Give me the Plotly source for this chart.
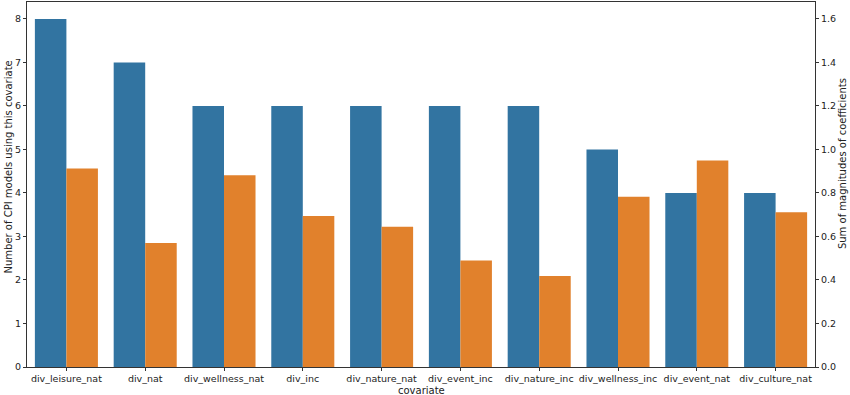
import plotly.graph_objects as go

categories = ["div_leisure_nat", "div_nat", "div_wellness_nat", "div_inc", "div_nature_nat",
              "div_event_inc", "div_nature_inc", "div_wellness_inc", "div_event_nat", "div_culture_nat"]
model_counts = [8, 7, 6, 6, 6, 6, 6, 5, 4, 4]
coef_magnitudes = [0.912, 0.570, 0.881, 0.694, 0.645, 0.490, 0.418, 0.783, 0.949, 0.711]
left_ticks = [0, 1, 2, 3, 4, 5, 6, 7, 8]
right_ticks = [0.0, 0.2, 0.4, 0.6, 0.8, 1.0, 1.2, 1.4, 1.6]

xs = list(range(len(categories)))
tick_font = dict(family="DejaVu Sans", size=9.5, color="#222")
title_font = dict(family="DejaVu Sans", size=10, color="#222")

fig = go.Figure()
fig.add_trace(go.Bar(x=xs, y=model_counts, width=0.4, offset=-0.4,
                     marker=dict(color="#3274a1", line=dict(width=0)), yaxis="y", name="count"))
fig.add_trace(go.Bar(x=xs, y=coef_magnitudes, width=0.4, offset=0.0,
                     marker=dict(color="#e1812c", line=dict(width=0)), yaxis="y2", name="magnitude"))

axis_common = dict(showgrid=False, zeroline=False, showline=True, linecolor="#333", linewidth=1,
                   ticks="outside", ticklen=3, tickcolor="#333", tickfont=tick_font, automargin=False)

fig.update_layout(
    width=850, height=395,
    margin=dict(l=27, r=35, t=2, b=28),
    plot_bgcolor="white", paper_bgcolor="white",
    showlegend=False,
    font=tick_font,
    xaxis=dict(tickmode="array", tickvals=xs, ticktext=categories, range=[-0.5, 9.5], tickangle=0,
               mirror=True, **axis_common),
    yaxis=dict(range=[0, 8.39], tickvals=left_ticks, ticktext=[str(t) for t in left_ticks],
               **axis_common),
    yaxis2=dict(range=[0, 1.678], overlaying="y", side="right", tickvals=right_ticks,
                ticktext=[f"{t:.1f}" for t in right_ticks], **axis_common),
    annotations=[
        dict(text="covariate", xref="paper", yref="paper", x=0.5, y=-0.0644,
             showarrow=False, font=title_font, xanchor="center", yanchor="middle"),
        dict(text="Number of CPI models using this covariate", xref="paper", yref="paper",
             x=-0.0241, y=0.5466, textangle=-90, showarrow=False, font=title_font,
             xanchor="center", yanchor="middle"),
        dict(text="Sum of magnitudes of coefficients", xref="paper", yref="paper",
             x=1.0350, y=0.5575, textangle=-90, showarrow=False, font=title_font,
             xanchor="center", yanchor="middle"),
    ],
)

fig.write_html("out.html", config={"displayModeBar": False},
               post_script="document.body.style.margin='0';document.body.style.overflow='hidden';")
